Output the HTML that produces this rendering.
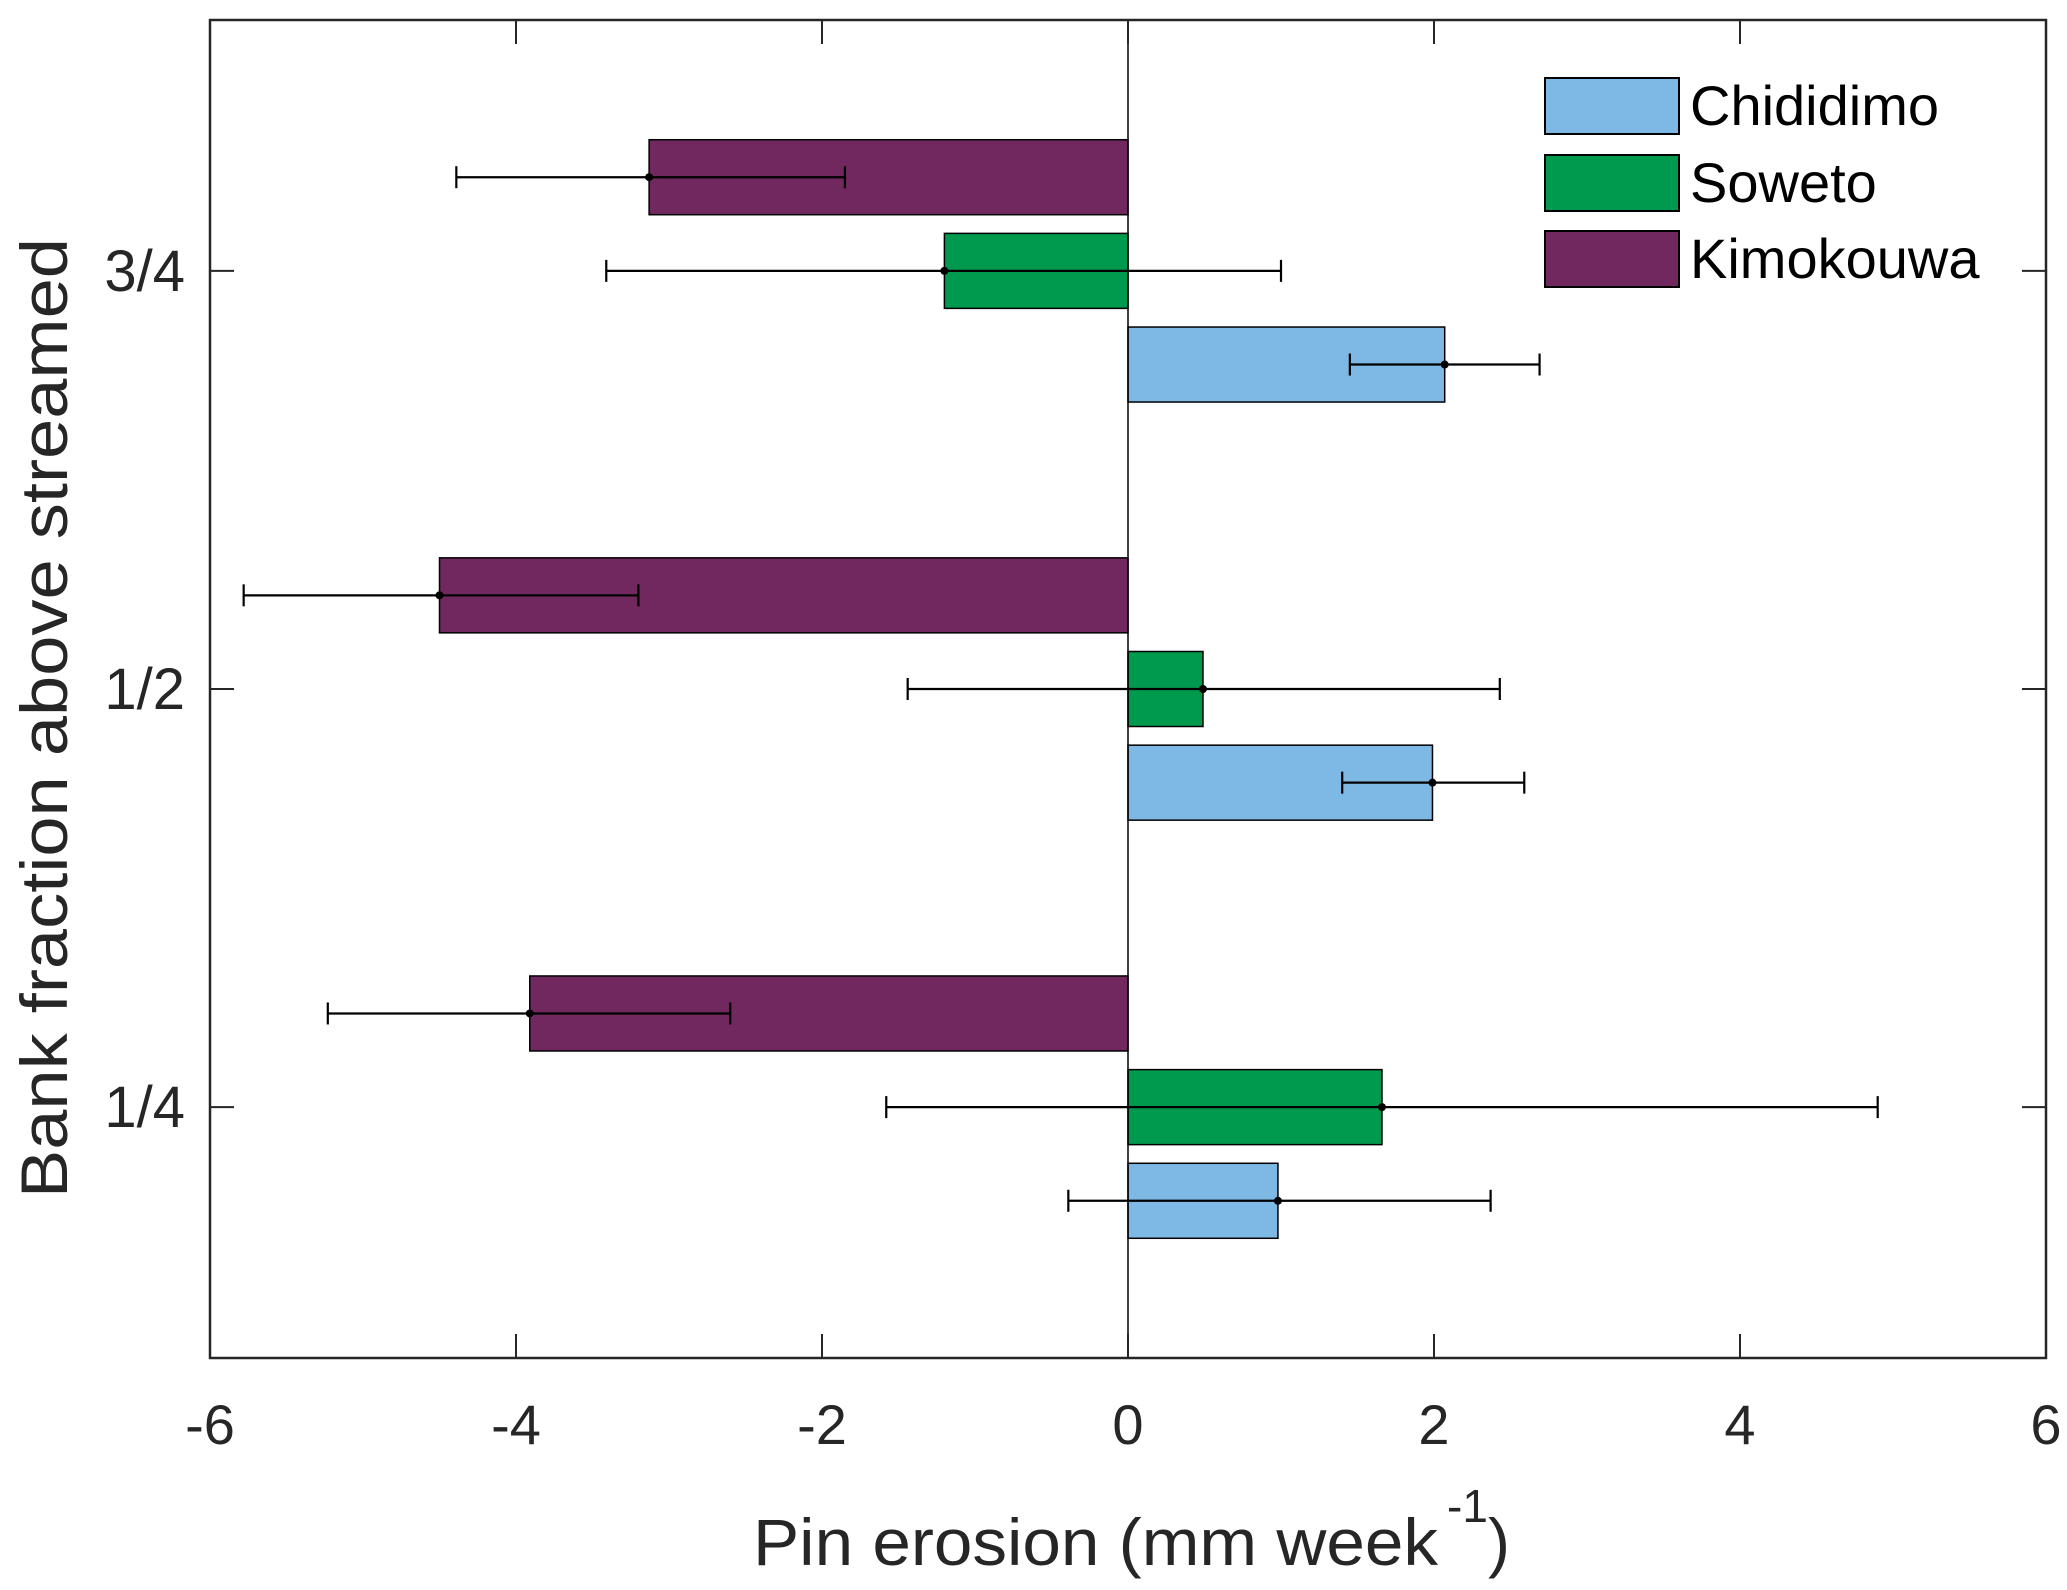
<!DOCTYPE html>
<html><head><meta charset="utf-8"><style>
html,body{margin:0;padding:0;background:#fff}
svg{display:block;font-family:"Liberation Sans",Arial,sans-serif}
</style></head><body>
<svg id="chart" width="2067" height="1590" viewBox="0 0 2067 1590" xmlns="http://www.w3.org/2000/svg">
</svg>
<script>
const categories = [0.25, 0.5, 0.75];
const catLabels = ["1/4", "1/2", "3/4"];
const seriesNames = ["Chididimo", "Soweto", "Kimokouwa"];
const seriesColors = ["#7EB9E6", "#009A4E", "#70285E"];
const chididimo = [0.98, 1.99, 2.07];
const chididimoLo = [-0.39, 1.40, 1.45];
const chididimoHi = [2.37, 2.59, 2.69];
const soweto = [1.66, 0.49, -1.20];
const sowetoLo = [-1.58, -1.44, -3.41];
const sowetoHi = [4.90, 2.43, 1.00];
const kimokouwa = [-3.91, -4.50, -3.13];
const kimokouwaLo = [-5.23, -5.78, -4.39];
const kimokouwaHi = [-2.60, -3.20, -1.85];
const xTicks = [-6, -4, -2, 0, 2, 4, 6];

const NS = "http://www.w3.org/2000/svg";
const svg = document.getElementById("chart");
const L = 210, R = 2046, T = 20, B = 1358;
const xMin = -6, xMax = 6, yMin = 0.1, yMax = 0.9;
const xs = v => L + (v - xMin) / (xMax - xMin) * (R - L);
const ys = v => B - (v - yMin) / (yMax - yMin) * (B - T);
function mk(tag, attrs, parent) {
  const e = document.createElementNS(NS, tag);
  for (const k in attrs) e.setAttribute(k, attrs[k]);
  (parent || svg).appendChild(e);
  return e;
}
const data = [chididimo, soweto, kimokouwa];
const lo = [chididimoLo, sowetoLo, kimokouwaLo];
const hi = [chididimoHi, sowetoHi, kimokouwaHi];
const offsets = [-0.056, 0, 0.056];
const barH = 75;

data.forEach((ser, s) => {
  ser.forEach((v, i) => {
    const yc = ys(categories[i] + offsets[s]);
    const x0 = Math.min(xs(0), xs(v)), w = Math.abs(xs(v) - xs(0));
    const r = mk("rect", {x: x0, y: yc - barH / 2, width: w, height: barH, fill: seriesColors[s], stroke: "#000", "stroke-width": 1.5});
    
    
  });
});
const z = mk("line", {x1: xs(0), x2: xs(0), y1: T, y2: B, stroke: "#000", "stroke-width": 1.5});


data.forEach((ser, s) => {
  ser.forEach((v, i) => {
    const yc = ys(categories[i] + offsets[s]);
    const g = mk("g", {stroke: "#000", "stroke-width": 2.2});
    
    
    mk("line", {x1: xs(lo[s][i]), x2: xs(hi[s][i]), y1: yc, y2: yc}, g);
    mk("line", {x1: xs(lo[s][i]), x2: xs(lo[s][i]), y1: yc - 11, y2: yc + 11}, g);
    mk("line", {x1: xs(hi[s][i]), x2: xs(hi[s][i]), y1: yc - 11, y2: yc + 11}, g);
    mk("circle", {cx: xs(v), cy: yc, r: 4, fill: "#000", stroke: "none"}, g);
  });
});
const box = mk("rect", {x: L, y: T, width: R - L, height: B - T, fill: "none", stroke: "#262626", "stroke-width": 2.5});


xTicks.forEach(t => {
  const x = xs(t);
  mk("line", {x1: x, x2: x, y1: B, y2: B - 24, stroke: "#262626", "stroke-width": 2});
  mk("line", {x1: x, x2: x, y1: T, y2: T + 24, stroke: "#262626", "stroke-width": 2});
  const tx = mk("text", {x: x, y: B + 86, "text-anchor": "middle", "font-size": 56, fill: "#262626"});
  tx.textContent = t;
  
  
});
categories.forEach((c, i) => {
  const y = ys(c);
  mk("line", {x1: L, x2: L + 24, y1: y, y2: y, stroke: "#262626", "stroke-width": 2});
  mk("line", {x1: R, x2: R - 24, y1: y, y2: y, stroke: "#262626", "stroke-width": 2});
  const tx = mk("text", {x: 185, y: y + 20, "text-anchor": "end", "font-size": 58, fill: "#262626"});
  tx.textContent = catLabels[i];
  
  
});
const xt = mk("text", {x: 753, y: 1565, "font-size": 66, fill: "#262626", textLength: 685, lengthAdjust: "spacingAndGlyphs"});
xt.textContent = "Pin erosion (mm week";


const sup = mk("text", {x: 1447, y: 1522, "font-size": 46, fill: "#262626"});
sup.textContent = "-1";


const cp = mk("text", {x: 1488, y: 1565, "font-size": 66, fill: "#262626"});
cp.textContent = ")";


const yt = mk("text", {x: 0, y: 0, "font-size": 66, fill: "#262626", "text-anchor": "middle", textLength: 960, lengthAdjust: "spacingAndGlyphs", transform: "translate(67,718) rotate(-90)"});
yt.textContent = "Bank fraction above streamed";


const ly = [78, 155, 231];
seriesNames.forEach((n, s) => {
  const g = mk("g", {});
  
  
  mk("rect", {x: 1545, y: ly[s], width: 134, height: 56, fill: seriesColors[s], stroke: "#000", "stroke-width": 2}, g);
  const t = mk("text", {x: 1690, y: ly[s] + 47, "font-size": 56, fill: "#000"}, g);
  t.textContent = n;
});
</script>
</body></html>
